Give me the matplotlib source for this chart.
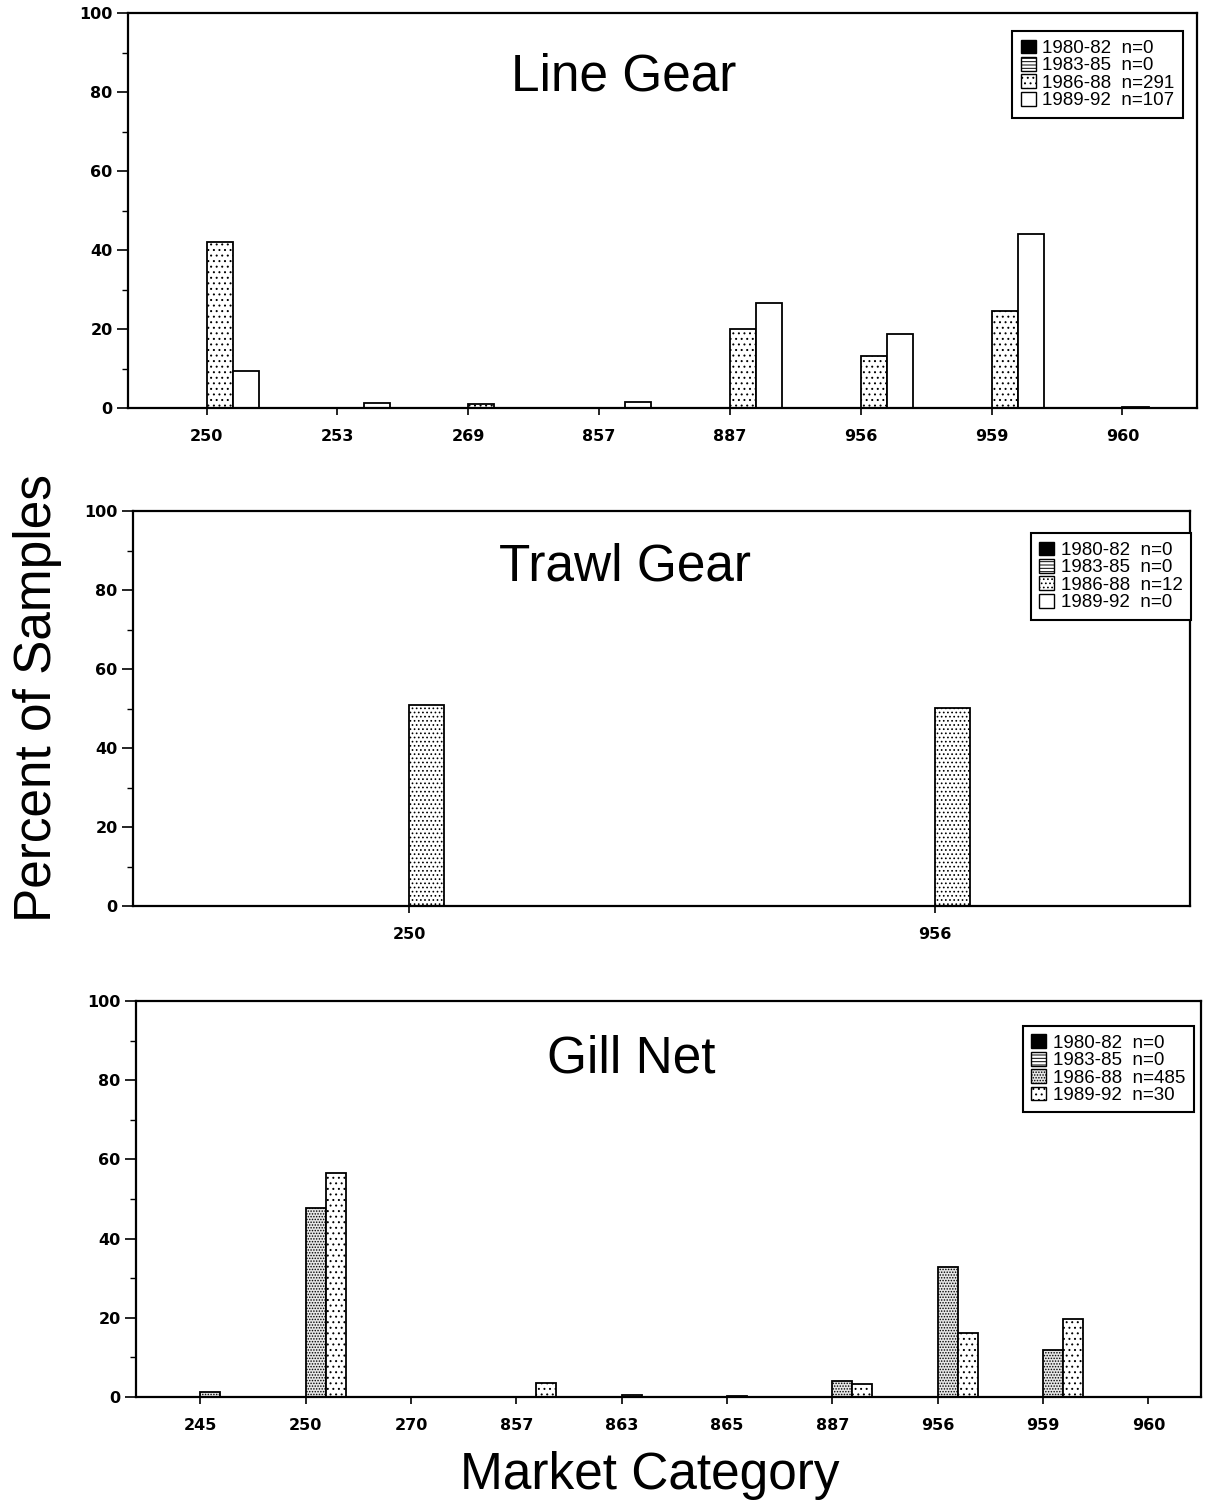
import numpy as np
import matplotlib
matplotlib.use("Agg")
import matplotlib.pyplot as plt
from matplotlib.patches import Patch
from matplotlib.ticker import MultipleLocator
from matplotlib.font_manager import FontProperties

# ---- data -------------------------------------------------------------
periods = ["1980-82", "1983-85", "1986-88", "1989-92"]

line_cats = ["250", "253", "269", "857", "887", "956", "959", "960"]
line_n = [0, 0, 291, 107]
line_8082 = [0, 0, 0, 0, 0, 0, 0, 0]
line_8385 = [0, 0, 0, 0, 0, 0, 0, 0]
line_8688 = [42.0, 0, 0.9, 0, 20.0, 13.2, 24.6, 0.3]
line_8992 = [9.4, 1.2, 0, 1.4, 26.6, 18.7, 44.1, 0]

trawl_cats = ["250", "956"]
trawl_n = [0, 0, 12, 0]
trawl_8082 = [0, 0]
trawl_8385 = [0, 0]
trawl_8688 = [50.9, 50.1]
trawl_8992 = [0, 0]

gill_cats = ["245", "250", "270", "857", "863", "865", "887", "956", "959", "960"]
gill_n = [0, 0, 485, 30]
gill_8082 = [0] * 10
gill_8385 = [0] * 10
gill_8688 = [1.2, 47.7, 0, 0, 0.4, 0.15, 4.0, 32.9, 11.9, 0]
gill_8992 = [0, 56.6, 0, 3.5, 0, 0, 3.2, 16.2, 19.7, 0]

# ---- style ------------------------------------------------------------
plt.rcParams["hatch.linewidth"] = 0.7
plt.rcParams["hatch.color"] = "black"
W, H = 1206, 1509
fig = plt.figure(figsize=(W / 100, H / 100), dpi=100)

TITLE_FONT = dict(family="Liberation Sans", size=37)
TICK_FONT = dict(family="DejaVu Sans", size=11.5, weight="bold")


def px_axes(left, right, top, bottom):
    return fig.add_axes([left / W, 1 - bottom / H, (right - left) / W, (bottom - top) / H])


def panel(ax, cats, series, styles, width, xlim, title, title_xy, n, leg_anchor):
    x = np.arange(len(cats))
    for k, (vals, st) in enumerate(zip(series, styles)):
        ax.bar(x + (k - 2) * width, vals, width=width, align="edge",
               facecolor=st["fc"], hatch=st.get("hatch"), edgecolor="black",
               linewidth=1.3, zorder=2)
    ax.set_xlim(*xlim)
    ax.set_ylim(0, 100)
    ax.set_xticks(x)
    ax.set_xticklabels(cats, fontdict=TICK_FONT)
    ax.yaxis.set_major_locator(MultipleLocator(20))
    ax.yaxis.set_minor_locator(MultipleLocator(10))
    for lab in ax.get_yticklabels():
        lab.set_fontproperties(FontProperties(**TICK_FONT))
    ax.tick_params(axis="y", which="major", direction="out", length=8, width=1.2, pad=3)
    ax.tick_params(axis="y", which="minor", direction="out", length=4, width=1.0)
    ax.tick_params(axis="x", which="major", direction="out", length=5, width=1.2, pad=10)
    for sp in ax.spines.values():
        sp.set_linewidth(1.6)
    ax.text(title_xy[0], title_xy[1], title, transform=ax.transAxes,
            ha="center", va="center", **TITLE_FONT)
    handles = [Patch(facecolor=st["fc"], hatch=st.get("hatch"),
                     edgecolor="black", linewidth=1.0) for st in styles]
    labels = [f"{p}  n={c}" for p, c in zip(periods, n)]
    leg = ax.legend(handles, labels, loc="upper right", bbox_to_anchor=leg_anchor,
                    prop=dict(family="Liberation Sans", size=13.5),
                    frameon=True, fancybox=False, framealpha=1, edgecolor="black",
                    borderpad=0.45, labelspacing=0.0, handlelength=0.8,
                    handleheight=0.75, handletextpad=0.35, borderaxespad=0)
    leg.get_frame().set_linewidth(1.5)


black = dict(fc="black")
lines83 = dict(fc="white", hatch="-----")
white = dict(fc="white")

ax1 = px_axes(128, 1197, 13, 408)
panel(ax1, line_cats, [line_8082, line_8385, line_8688, line_8992],
      [black, lines83, dict(fc="white", hatch="..."), white],
      0.2, (-0.6, 7.57), "Line Gear", (0.464, 0.838), line_n, (0.987, 0.954))

ax2 = px_axes(133, 1190, 511, 906)
panel(ax2, trawl_cats, [trawl_8082, trawl_8385, trawl_8688, trawl_8992],
      [black, lines83, dict(fc="white", hatch="...."), white],
      0.067, (-0.525, 1.485), "Trawl Gear", (0.465, 0.858), trawl_n, (1.001, 0.944))

ax3 = px_axes(136, 1201, 1001, 1397)
panel(ax3, gill_cats, [gill_8082, gill_8385, gill_8688, gill_8992],
      [black, lines83, dict(fc="#e6e6e6", hatch="......"), dict(fc="white", hatch="...")],
      0.19, (-0.61, 9.5), "Gill Net", (0.465, 0.854), gill_n, (0.993, 0.937))

fig.text(38 / W, 1 - 698 / H, "Percent of Samples", rotation=90,
         ha="center", va="center", **TITLE_FONT)
fig.text(650 / W, 1 - 1475 / H, "Market Category",
         ha="center", va="center", **TITLE_FONT)

fig.savefig("out.png", dpi=100, facecolor="white")
